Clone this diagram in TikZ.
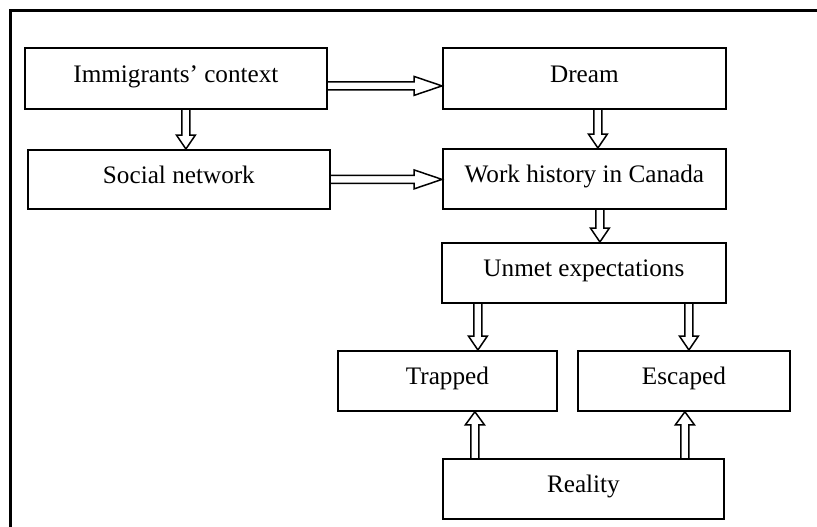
\documentclass[tikz,border=0pt]{standalone}
\usepackage{fontspec}
\setmainfont{Liberation Serif}
\usetikzlibrary{calc}
\newcommand\hl{14pt}
\newcommand\hw{9.5pt}
\newcommand\sw{4pt}
% horizontal hollow arrow: #1 start point on source east edge, #2 target node west anchor
\newcommand\harr[2]{%
  \draw[arr] let \p1=(#1), \p2=(#2) in
    (\x1,{\y1+\sw}) -- ({\x2-28pt},{\y1+\sw}) -- ({\x2-28pt},{\y1+\hw}) -- (\x2,\y1)
    -- ({\x2-28pt},{\y1-\hw}) -- ({\x2-28pt},{\y1-\sw}) -- (\x1,{\y1-\sw});}
% downward hollow arrow: #1 start point on source south edge, #2 target north anchor
\newcommand\darr[2]{%
  \draw[arr] let \p1=(#1), \p2=(#2) in
    ({\x1-\sw},\y1) -- ({\x1-\sw},{\y2+\hl}) -- ({\x1-\hw},{\y2+\hl}) -- (\x1,\y2)
    -- ({\x1+\hw},{\y2+\hl}) -- ({\x1+\sw},{\y2+\hl}) -- ({\x1+\sw},\y1);}
% upward hollow arrow
\newcommand\uarr[2]{%
  \draw[arr] let \p1=(#1), \p2=(#2) in
    ({\x1-\sw},\y1) -- ({\x1-\sw},{\y2-13pt}) -- ({\x1-\hw},{\y2-13pt}) -- (\x1,\y2)
    -- ({\x1+\hw},{\y2-13pt}) -- ({\x1+\sw},{\y2-13pt}) -- ({\x1+\sw},\y1);}
\begin{document}
\begin{tikzpicture}[x=1pt,y=-1pt,
  box/.style={draw, line width=1.8pt, rectangle, inner sep=0pt, anchor=north west,
    text height=16pt, text depth=8pt, font=\fontsize{25.2}{30}\selectfont},
  arr/.style={draw, line width=1.5pt, line join=miter}]
\useasboundingbox (0,0) rectangle (817,527);
\fill[white] (0,0) rectangle (817,527);
\draw[line width=2.2pt] (10.5,528) -- (10.5,10.5) -- (818,10.5);

\node[box, minimum width=302pt, minimum height=61pt] (ic) at (24,47) {Immigrants’ context};
\node[box, minimum width=302pt, minimum height=59pt] (sn) at (27,149) {Social network};
\node[box, minimum width=283pt, minimum height=61pt] (dr) at (442,47) {Dream};
\node[box, minimum width=283pt, minimum height=60pt] (wh) at (442,148) {Work history in Canada};
\node[box, minimum width=284pt, minimum height=60pt] (ue) at (441,242) {Unmet expectations};
\node[box, minimum width=219pt, minimum height=60pt] (tr) at (337,350) {Trapped};
\node[box, minimum width=212pt, minimum height=60pt] (es) at (577,350) {Escaped};
\node[box, minimum width=281pt, minimum height=60pt] (re) at (442,458) {Reality};

\harr{[yshift=-7.5pt]ic.east}{dr.west}
\harr{sn.east}{wh.west}
\darr{[xshift=10pt]ic.south}{sn.north}
\darr{[xshift=13.5pt]dr.south}{wh.north}
\darr{[xshift=15.5pt]wh.south}{ue.north}
\darr{[xshift=-106pt]ue.south}{tr.north}
\darr{[xshift=105pt]ue.south}{es.north}
\uarr{[xshift=-108.5pt]re.north}{tr.south}
\uarr{[xshift=101.5pt]re.north}{es.south}
\end{tikzpicture}
\end{document}
